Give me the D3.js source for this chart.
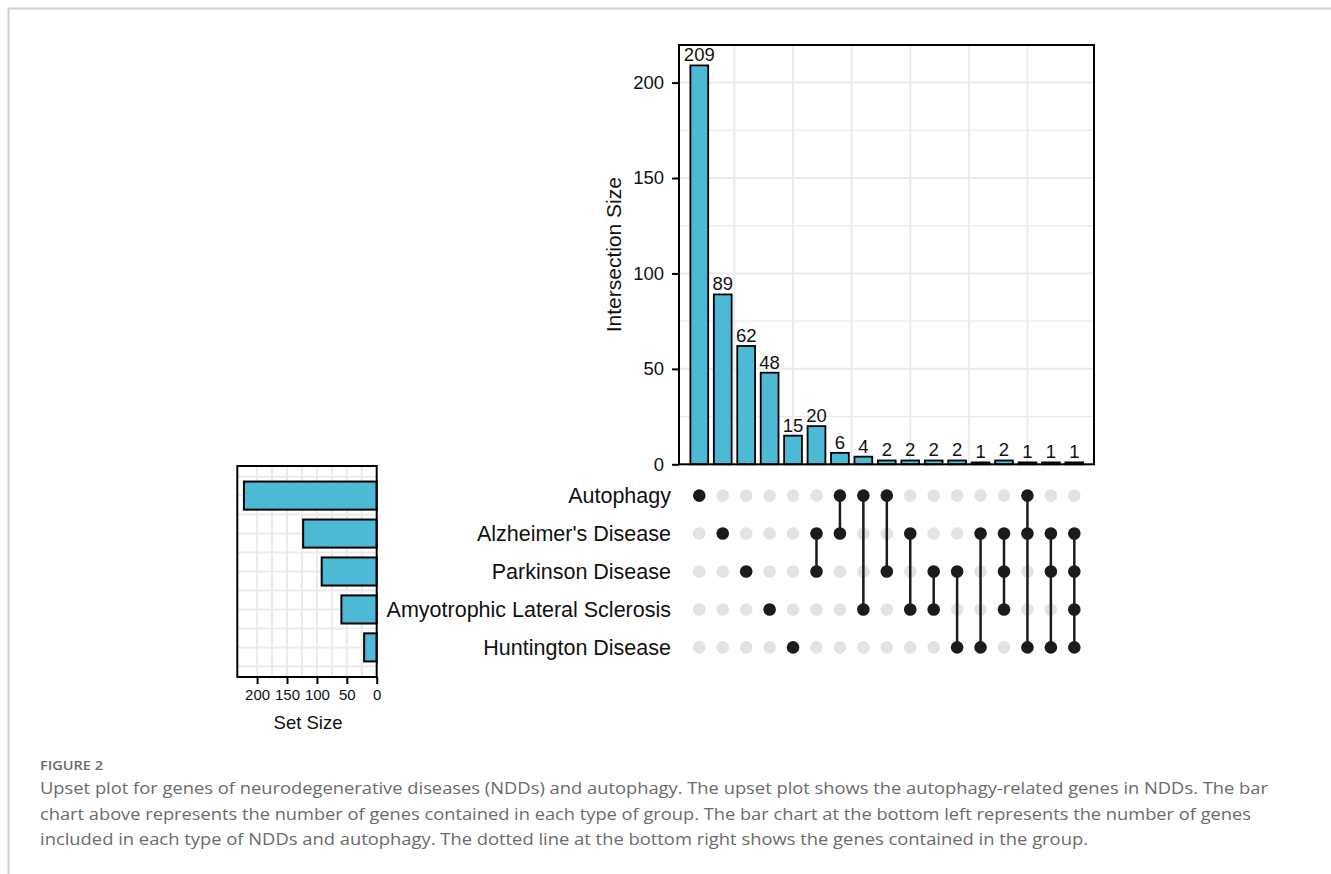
<!DOCTYPE html>
<html>
<head>
<meta charset="utf-8">
<script src="https://cdn.jsdelivr.net/npm/d3@7"></script>
<style>
    body { margin: 0; background: #fff; }
    svg { display: block; }
</style>
</head>
<body>
<svg id="chart" width="1331" height="874"></svg>
<script>
"use strict";

//  Data  ---
var sets = ["Autophagy", "Alzheimer's Disease", "Parkinson Disease", "Amyotrophic Lateral Sclerosis", "Huntington Disease"];
var setSizes = [222, 123, 92, 59, 21];
var intersectionSizes = [209, 89, 62, 48, 15, 20, 6, 4, 2, 2, 2, 2, 1, 2, 1, 1, 1];
// index into sets for every member of each intersection (left to right)
var intersectionMembers = [[0], [1], [2], [3], [4], [1, 2], [0, 1], [0, 3], [0, 2], [1, 3], [2, 3], [2, 4], [1, 4], [1, 2, 3], [0, 1, 4], [1, 2, 4], [1, 2, 3, 4]];
var sizeTicks = [0, 50, 100, 150, 200];
var sizeMinorTicks = [25, 75, 125, 175];
var columnGrid = [2.5, 5, 7.5, 10, 12.5, 15];
var setTicks = [0, 50, 100, 150, 200];
var setMinorTicks = [25, 75, 125, 175];
var captionTitle = "FIGURE 2";
var captionLines = [
    "Upset plot for genes of neurodegenerative diseases (NDDs) and autophagy. The upset plot shows the autophagy-related genes in NDDs. The bar",
    "chart above represents the number of genes contained in each type of group. The bar chart at the bottom left represents the number of genes",
    "included in each type of NDDs and autophagy. The dotted line at the bottom right shows the genes contained in the group."
];

(function () {
    var barFill = "#4dbad5";
    var gridColor = "#ebebeb";
    var ink = "#111";
    var font = "'Liberation Sans', Arial, sans-serif";

    var svg = d3.select("#chart");

    //  Frame  ---
    svg.append("path")
        .attr("d", "M 8.5,874 L 8.5,8.5 L 1331,8.5")
        .attr("fill", "none")
        .attr("stroke", "#cfcfcf")
        .attr("stroke-width", 2)
    ;

    //  Scales  ---
    var main = { left: 679, right: 1094, top: 45, bottom: 464.3 };
    var side = { left: 237.3, right: 376.7, top: 466, bottom: 677 };

    var x = d3.scaleLinear().domain([0.134, 17.84]).range([main.left, main.right]);
    var y = d3.scaleLinear().domain([0, 219.7]).range([main.bottom, main.top]);
    var rowY = d3.scaleLinear().domain([0.22, 5.78]).range([side.top, side.bottom]);
    var setX = d3.scaleLinear().domain([0, 233.1]).range([side.right, side.left]);

    //  Intersection bars  ---
    var barsPanel = svg.append("g");
    barsPanel.selectAll(".minor").data(sizeMinorTicks).enter().append("line")
        .attr("x1", main.left).attr("x2", main.right)
        .attr("y1", y).attr("y2", y)
        .attr("stroke", gridColor).attr("stroke-width", 1.3)
    ;
    barsPanel.selectAll(".major").data(sizeTicks.slice(1)).enter().append("line")
        .attr("x1", main.left).attr("x2", main.right)
        .attr("y1", y).attr("y2", y)
        .attr("stroke", gridColor).attr("stroke-width", 2)
    ;
    barsPanel.selectAll(".vgrid").data(columnGrid).enter().append("line")
        .attr("x1", x).attr("x2", x)
        .attr("y1", main.top).attr("y2", main.bottom)
        .attr("stroke", gridColor).attr("stroke-width", 2)
    ;

    var half = x(1.38) - x(1);
    barsPanel.selectAll(".bar").data(intersectionSizes).enter().append("rect")
        .attr("x", function (d, i) { return x(i + 1) - half; })
        .attr("width", half * 2)
        .attr("y", function (d) { return y(d); })
        .attr("height", function (d) { return y(0) - y(d); })
        .attr("fill", barFill)
        .attr("stroke", "#000")
        .attr("stroke-width", 1.8)
    ;
    barsPanel.selectAll(".label").data(intersectionSizes).enter().append("text")
        .attr("x", function (d, i) { return x(i + 1); })
        .attr("y", function (d) { return y(d) - 4; })
        .attr("text-anchor", "middle")
        .attr("font-family", font)
        .attr("font-size", 18.5)
        .attr("fill", ink)
        .text(function (d) { return d; })
    ;
    barsPanel.append("rect")
        .attr("x", main.left).attr("y", main.top)
        .attr("width", main.right - main.left).attr("height", main.bottom - main.top)
        .attr("fill", "none").attr("stroke", "#000").attr("stroke-width", 2)
    ;

    var yAxis = barsPanel.append("g")
        .attr("transform", "translate(" + main.left + ",0)")
        .call(d3.axisLeft(y).tickValues(sizeTicks).tickSize(7).tickPadding(8))
    ;
    yAxis.select(".domain").remove();
    yAxis.selectAll("line").attr("stroke", "#000").attr("stroke-width", 2);
    yAxis.selectAll("text").attr("font-family", font).attr("font-size", 18.5).attr("fill", ink);

    barsPanel.append("text")
        .attr("transform", "translate(621," + ((main.top + main.bottom) / 2) + ")rotate(-90)")
        .attr("text-anchor", "middle")
        .attr("font-family", font)
        .attr("font-size", 21)
        .attr("fill", ink)
        .text("Intersection Size")
    ;

    //  Matrix  ---
    var matrix = svg.append("g");
    var cells = [];
    intersectionMembers.forEach(function (members, col) {
        sets.forEach(function (s, row) {
            cells.push({ col: col + 1, row: row + 1, on: members.indexOf(row) >= 0 });
        });
    });
    matrix.selectAll(".off").data(cells.filter(function (c) { return !c.on; })).enter().append("circle")
        .attr("cx", function (d) { return x(d.col); })
        .attr("cy", function (d) { return rowY(d.row); })
        .attr("r", 6.3)
        .attr("fill", "#e3e3e3")
    ;
    matrix.selectAll(".link").data(intersectionMembers.filter(function (m) { return m.length > 1; })).enter().append("line")
        .attr("x1", function (d) { return x(intersectionMembers.indexOf(d) + 1); })
        .attr("x2", function (d) { return x(intersectionMembers.indexOf(d) + 1); })
        .attr("y1", function (d) { return rowY(d3.min(d) + 1); })
        .attr("y2", function (d) { return rowY(d3.max(d) + 1); })
        .attr("stroke", "#1b1b1b")
        .attr("stroke-width", 2.5)
    ;
    matrix.selectAll(".on").data(cells.filter(function (c) { return c.on; })).enter().append("circle")
        .attr("cx", function (d) { return x(d.col); })
        .attr("cy", function (d) { return rowY(d.row); })
        .attr("r", 6.3)
        .attr("fill", "#1b1b1b")
    ;
    matrix.selectAll(".setname").data(sets).enter().append("text")
        .attr("x", 671)
        .attr("y", function (d, i) { return rowY(i + 1); })
        .attr("dy", "0.36em")
        .attr("text-anchor", "end")
        .attr("font-family", font)
        .attr("font-size", 21.5)
        .attr("fill", ink)
        .text(function (d) { return d; })
    ;

    //  Set size bars  ---
    var setPanel = svg.append("g");
    setPanel.selectAll(".hgrid").data([0.5, 1, 1.5, 2, 2.5, 3, 3.5, 4, 4.5, 5, 5.5]).enter().append("line")
        .attr("x1", side.left).attr("x2", side.right)
        .attr("y1", rowY).attr("y2", rowY)
        .attr("stroke", gridColor).attr("stroke-width", 2)
    ;
    setPanel.selectAll(".vgrid").data(setTicks.slice(1).concat(setMinorTicks)).enter().append("line")
        .attr("x1", setX).attr("x2", setX)
        .attr("y1", side.top).attr("y2", side.bottom)
        .attr("stroke", gridColor).attr("stroke-width", 2)
    ;
    var bh = rowY(1.37) - rowY(1);
    setPanel.selectAll(".bar").data(setSizes).enter().append("rect")
        .attr("x", function (d) { return setX(d); })
        .attr("width", function (d) { return setX(0) - setX(d); })
        .attr("y", function (d, i) { return rowY(i + 1) - bh; })
        .attr("height", bh * 2)
        .attr("fill", barFill)
        .attr("stroke", "#000")
        .attr("stroke-width", 2)
    ;
    setPanel.append("rect")
        .attr("x", side.left).attr("y", side.top)
        .attr("width", side.right - side.left).attr("height", side.bottom - side.top)
        .attr("fill", "none").attr("stroke", "#000").attr("stroke-width", 2)
    ;
    var xAxis = setPanel.append("g")
        .attr("transform", "translate(0," + side.bottom + ")")
        .call(d3.axisBottom(setX).tickValues(setTicks).tickSize(7).tickPadding(5))
    ;
    xAxis.select(".domain").remove();
    xAxis.selectAll("line").attr("stroke", "#000").attr("stroke-width", 2);
    xAxis.selectAll("text").attr("font-family", font).attr("font-size", 15).attr("fill", ink);
    setPanel.append("text")
        .attr("x", (side.left + side.right) / 2 + 1)
        .attr("y", 729)
        .attr("text-anchor", "middle")
        .attr("font-family", font)
        .attr("font-size", 18.5)
        .attr("fill", ink)
        .text("Set Size")
    ;

    //  Caption  ---
    var caption = svg.append("g").attr("font-family", "'Open Sans', 'Noto Sans', sans-serif").attr("fill", "#6b6b6b");
    caption.append("text")
        .attr("x", 40).attr("y", 770)
        .attr("font-size", 13)
        .attr("font-weight", 600)
        .attr("textLength", 63)
        .attr("lengthAdjust", "spacingAndGlyphs")
        .text(captionTitle)
    ;
    var lineEnds = [1268, 1251, 1088];
    caption.selectAll(".line").data(captionLines).enter().append("text")
        .attr("x", 40)
        .attr("y", function (d, i) { return 794 + i * 25.7; })
        .attr("font-size", 17)
        .attr("textLength", function (d, i) { return lineEnds[i] - 40; })
        .attr("lengthAdjust", "spacingAndGlyphs")
        .text(function (d) { return d; })
    ;
}());
</script>
</body>
</html>
